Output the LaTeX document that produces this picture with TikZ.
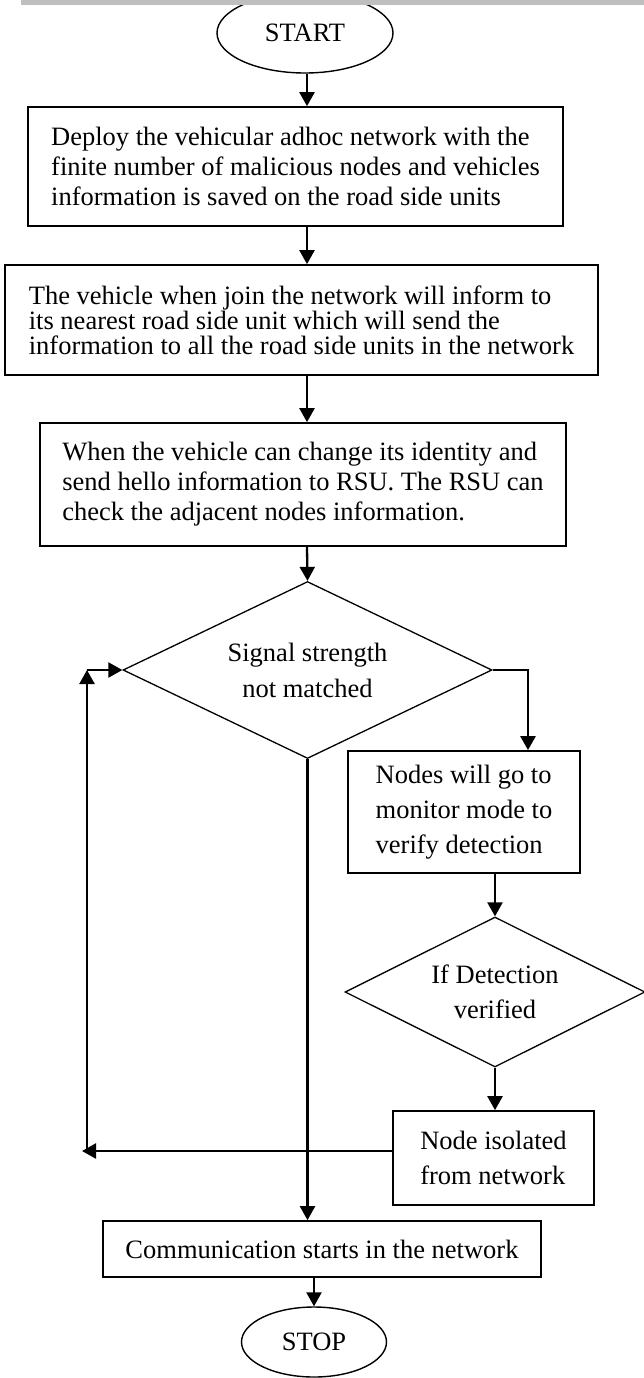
\documentclass[tikz,border=0pt]{standalone}
\usepackage{fontspec}
\setmainfont{Liberation Serif}
\usetikzlibrary{shapes.geometric,arrows.meta,calc}
\tikzset{
  box/.style={draw, line width=1.7pt, rectangle, inner sep=0pt, align=left, font=\fontsize{26.5}{29}\selectfont},
  term/.style={draw, line width=1.4pt, ellipse, inner sep=0pt, font=\fontsize{26.5}{29}\selectfont},
  decision/.style={draw, line width=1.3pt, diamond, inner sep=0pt, align=center, font=\fontsize{26.5}{36}\selectfont},
  arr/.style={line width=2.3pt, -{Triangle[length=14pt,width=15pt]}},
}
\begin{document}
\begin{tikzpicture}[x=1pt,y=-1pt]
\useasboundingbox (0,0) rectangle (644,1378);
\fill[white] (0,0) rectangle (644,1378);
% terminals
\node[term, minimum width=176pt, minimum height=80pt] (start) at (305,33) {START};
\fill[black!25] (21,0) rectangle (644,5.5);
\node[box, minimum width=535pt, minimum height=119pt, font=\fontsize{26.5}{30}\selectfont] (b1) at (295.5,166.5)
  {Deploy the vehicular adhoc network with the\\finite number of malicious nodes and vehicles\\information is saved on the road side units};
\node[box, minimum width=593pt, minimum height=110pt, font=\fontsize{26.5}{25}\selectfont] (b2) at (301.5,320)
  {The vehicle when join the network will inform to\\its nearest road side unit which will send the\\information to all the road side units in the network};
\node[box, minimum width=526pt, minimum height=123pt, font=\fontsize{26.5}{30}\selectfont] (b3) at (303,484.5)
  {When the vehicle can change its identity and\\send hello information to RSU. The RSU can\\check the adjacent nodes information.};
\node[decision, aspect=2.1, minimum width=369pt, minimum height=177pt] (d1) at (307.5,670)
  {Signal strength\\not matched};
\node[box, minimum width=232pt, minimum height=122pt, font=\fontsize{26.5}{35}\selectfont] (b4) at (464,812)
  {Nodes will go to\\monitor mode to\\verify detection};
\node[decision, aspect=2, minimum width=300pt, minimum height=150pt, font=\fontsize{26.5}{35}\selectfont] (d2) at (495,992)
  {If Detection\\verified};
\node[box, minimum width=201pt, minimum height=94pt, font=\fontsize{26.5}{35}\selectfont] (iso) at (493.5,1158)
  {Node isolated\\from network};
\node[box, minimum width=438pt, minimum height=56pt] (comm) at (322,1249)
  {Communication starts in the network};
\node[term, minimum width=145pt, minimum height=70pt] (stop) at (314,1342) {STOP};
% helper coordinates
\coordinate (col) at (307,0);
\coordinate (rcol) at (528,0);
\coordinate (lb) at (82,1151);
\coordinate (lv) at (87,1151);
\coordinate (lt) at (87,670);
% connectors
\draw[arr] (start.south -| col) -- (b1.north -| col);
\draw[arr] (b1.south -| col) -- (b2.north -| col);
\draw[arr] (b2.south -| col) -- (b3.north -| col);
\draw[arr] (b3.south -| col) -- (d1.north);
\draw[arr] (d1.south) -- (d1.south |- comm.north);
\draw[arr] (d1.east) -| (b4.north -| rcol);
\draw[arr] (b4.south -| d2.north) -- (d2.north);
\draw[arr] (d2.south) -- (d2.south |- iso.north);
\draw[arr] (iso.west |- lb) -- (lb);
\draw[arr] (lv) -- (lt);
\draw[arr] (lt) -- (d1.west);
\draw[arr] (comm.south -| stop.north) -- (stop.north);
\end{tikzpicture}
\end{document}
